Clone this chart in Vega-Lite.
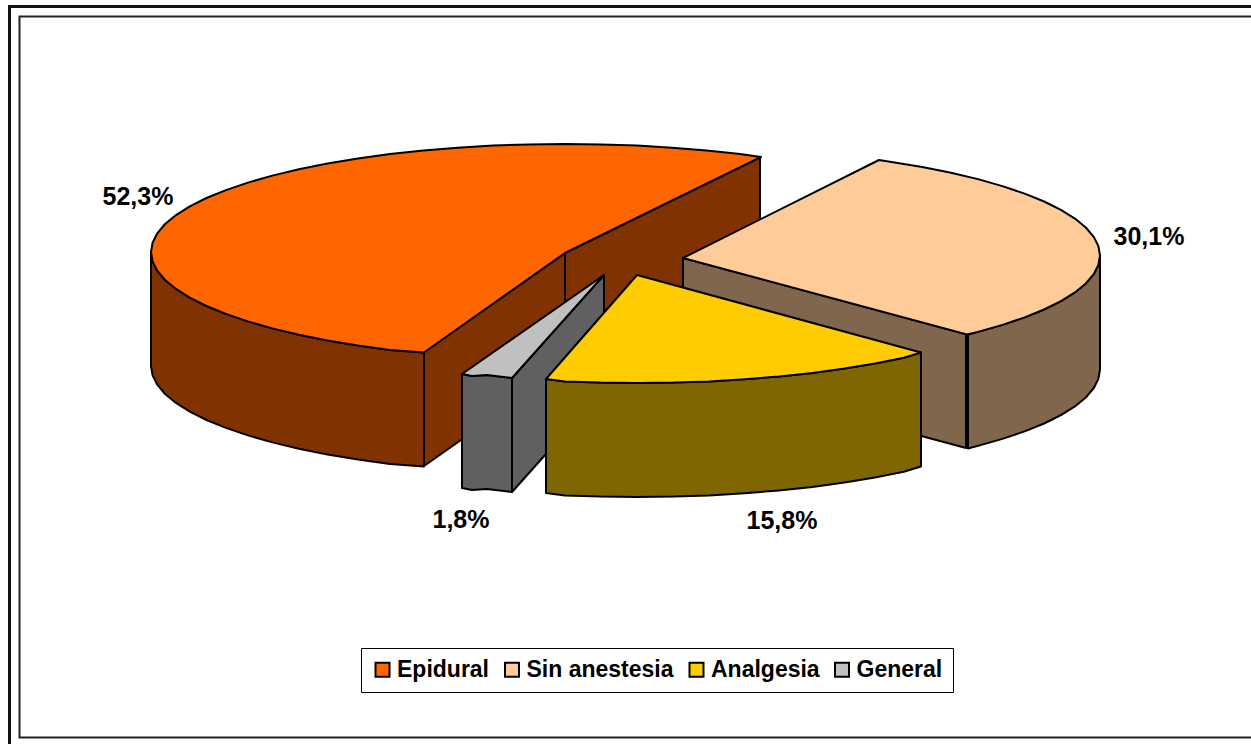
{"$schema":"https://vega.github.io/schema/vega-lite/v6.json","width":1251,"height":744,"padding":0,"autosize":{"type":"none"},"background":"white","view":{"stroke":null},
"datasets":{
"marco":[
{"m":"ext","n":1,"x":1251,"y":6.5},{"m":"ext","n":2,"x":9.5,"y":6.5},{"m":"ext","n":3,"x":9.5,"y":744},
{"m":"int","n":1,"x":1251,"y":16.5},{"m":"int","n":2,"x":19.5,"y":16.5},{"m":"int","n":3,"x":19.5,"y":737.5},{"m":"int","n":4,"x":1251,"y":737.5}],
"lados":[
{"s":"Epidural","c":"e2","n":1,"x":565,"y":253},{"s":"Epidural","c":"e2","n":2,"x":760,"y":157},{"s":"Epidural","c":"e2","n":3,"x":760,"y":271},{"s":"Epidural","c":"e2","n":4,"x":565,"y":367},
{"s":"Epidural","c":"e1","n":1,"x":424,"y":352},{"s":"Epidural","c":"e1","n":2,"x":565,"y":253},{"s":"Epidural","c":"e1","n":3,"x":565,"y":367},{"s":"Epidural","c":"e1","n":4,"x":424,"y":466},
{"s":"Epidural","c":"e0","n":1,"x":151,"y":252},{"s":"Epidural","c":"e0","n":2,"x":152.6,"y":261.4},{"s":"Epidural","c":"e0","n":3,"x":157.3,"y":270.7},{"s":"Epidural","c":"e0","n":4,"x":165.1,"y":280},{"s":"Epidural","c":"e0","n":5,"x":176,"y":288.9},{"s":"Epidural","c":"e0","n":6,"x":189.8,"y":297.6},{"s":"Epidural","c":"e0","n":7,"x":206.5,"y":306},{"s":"Epidural","c":"e0","n":8,"x":225.9,"y":313.9},{"s":"Epidural","c":"e0","n":9,"x":247.9,"y":321.4},{"s":"Epidural","c":"e0","n":10,"x":272.3,"y":328.4},{"s":"Epidural","c":"e0","n":11,"x":298.9,"y":334.7},{"s":"Epidural","c":"e0","n":12,"x":327.5,"y":340.5},{"s":"Epidural","c":"e0","n":13,"x":358,"y":345.5},{"s":"Epidural","c":"e0","n":14,"x":390,"y":349.9},{"s":"Epidural","c":"e0","n":15,"x":424,"y":352.5},{"s":"Epidural","c":"e0","n":16,"x":424,"y":466.5},{"s":"Epidural","c":"e0","n":17,"x":390,"y":463.9},{"s":"Epidural","c":"e0","n":18,"x":358,"y":459.5},{"s":"Epidural","c":"e0","n":19,"x":327.5,"y":454.5},{"s":"Epidural","c":"e0","n":20,"x":298.9,"y":448.7},{"s":"Epidural","c":"e0","n":21,"x":272.3,"y":442.4},{"s":"Epidural","c":"e0","n":22,"x":247.9,"y":435.4},{"s":"Epidural","c":"e0","n":23,"x":225.9,"y":427.9},{"s":"Epidural","c":"e0","n":24,"x":206.5,"y":420},{"s":"Epidural","c":"e0","n":25,"x":189.8,"y":411.6},{"s":"Epidural","c":"e0","n":26,"x":176,"y":402.9},{"s":"Epidural","c":"e0","n":27,"x":165.1,"y":394},{"s":"Epidural","c":"e0","n":28,"x":157.3,"y":384.7},{"s":"Epidural","c":"e0","n":29,"x":152.6,"y":375.4},{"s":"Epidural","c":"e0","n":30,"x":151,"y":366},
{"s":"Sin anestesia","c":"a1","n":1,"x":683,"y":258},{"s":"Sin anestesia","c":"a1","n":2,"x":966,"y":334},{"s":"Sin anestesia","c":"a1","n":3,"x":966,"y":448},{"s":"Sin anestesia","c":"a1","n":4,"x":683,"y":372},
{"s":"Sin anestesia","c":"a0","n":1,"x":968,"y":334.5},{"s":"Sin anestesia","c":"a0","n":2,"x":977.9,"y":331.9},{"s":"Sin anestesia","c":"a0","n":3,"x":1002.4,"y":324.9},{"s":"Sin anestesia","c":"a0","n":4,"x":1024.6,"y":317.4},{"s":"Sin anestesia","c":"a0","n":5,"x":1044.1,"y":309.5},{"s":"Sin anestesia","c":"a0","n":6,"x":1060.9,"y":301.1},{"s":"Sin anestesia","c":"a0","n":7,"x":1074.9,"y":292.4},{"s":"Sin anestesia","c":"a0","n":8,"x":1085.8,"y":283.5},{"s":"Sin anestesia","c":"a0","n":9,"x":1093.7,"y":274.2},{"s":"Sin anestesia","c":"a0","n":10,"x":1098.4,"y":264.9},{"s":"Sin anestesia","c":"a0","n":11,"x":1100,"y":255.5},{"s":"Sin anestesia","c":"a0","n":12,"x":1100,"y":369.5},{"s":"Sin anestesia","c":"a0","n":13,"x":1098.4,"y":378.9},{"s":"Sin anestesia","c":"a0","n":14,"x":1093.7,"y":388.2},{"s":"Sin anestesia","c":"a0","n":15,"x":1085.8,"y":397.5},{"s":"Sin anestesia","c":"a0","n":16,"x":1074.9,"y":406.4},{"s":"Sin anestesia","c":"a0","n":17,"x":1060.9,"y":415.1},{"s":"Sin anestesia","c":"a0","n":18,"x":1044.1,"y":423.5},{"s":"Sin anestesia","c":"a0","n":19,"x":1024.6,"y":431.4},{"s":"Sin anestesia","c":"a0","n":20,"x":1002.4,"y":438.9},{"s":"Sin anestesia","c":"a0","n":21,"x":977.9,"y":445.9},{"s":"Sin anestesia","c":"a0","n":22,"x":968,"y":448.5},
{"s":"General","c":"g1","n":1,"x":512,"y":378},{"s":"General","c":"g1","n":2,"x":604,"y":275},{"s":"General","c":"g1","n":3,"x":604,"y":389},{"s":"General","c":"g1","n":4,"x":512,"y":492},
{"s":"General","c":"g0","n":1,"x":462,"y":374},{"s":"General","c":"g0","n":2,"x":472,"y":376},{"s":"General","c":"g0","n":3,"x":487,"y":375},{"s":"General","c":"g0","n":4,"x":512,"y":378},{"s":"General","c":"g0","n":5,"x":512,"y":492},{"s":"General","c":"g0","n":6,"x":487,"y":489},{"s":"General","c":"g0","n":7,"x":472,"y":490},{"s":"General","c":"g0","n":8,"x":462,"y":488},
{"s":"Analgesia","c":"n0","n":1,"x":546,"y":379},{"s":"Analgesia","c":"n0","n":2,"x":565,"y":381.4},{"s":"Analgesia","c":"n0","n":3,"x":600.8,"y":382.6},{"s":"Analgesia","c":"n0","n":4,"x":637,"y":383},{"s":"Analgesia","c":"n0","n":5,"x":673.2,"y":382.6},{"s":"Analgesia","c":"n0","n":6,"x":709,"y":381.4},{"s":"Analgesia","c":"n0","n":7,"x":744.4,"y":379.3},{"s":"Analgesia","c":"n0","n":8,"x":778.9,"y":376.5},{"s":"Analgesia","c":"n0","n":9,"x":812.4,"y":372.9},{"s":"Analgesia","c":"n0","n":10,"x":844.5,"y":368.5},{"s":"Analgesia","c":"n0","n":11,"x":875,"y":363.5},{"s":"Analgesia","c":"n0","n":12,"x":903.8,"y":357.7},{"s":"Analgesia","c":"n0","n":13,"x":921,"y":352.5},{"s":"Analgesia","c":"n0","n":14,"x":921,"y":466.5},{"s":"Analgesia","c":"n0","n":15,"x":903.8,"y":471.7},{"s":"Analgesia","c":"n0","n":16,"x":875,"y":477.5},{"s":"Analgesia","c":"n0","n":17,"x":844.5,"y":482.5},{"s":"Analgesia","c":"n0","n":18,"x":812.4,"y":486.9},{"s":"Analgesia","c":"n0","n":19,"x":778.9,"y":490.5},{"s":"Analgesia","c":"n0","n":20,"x":744.4,"y":493.3},{"s":"Analgesia","c":"n0","n":21,"x":709,"y":495.4},{"s":"Analgesia","c":"n0","n":22,"x":673.2,"y":496.6},{"s":"Analgesia","c":"n0","n":23,"x":637,"y":497},{"s":"Analgesia","c":"n0","n":24,"x":600.8,"y":496.6},{"s":"Analgesia","c":"n0","n":25,"x":565,"y":495.4},{"s":"Analgesia","c":"n0","n":26,"x":546,"y":493}],
"tapas":[
{"s":"Epidural","c":"E","n":1,"x":151,"y":252},{"s":"Epidural","c":"E","n":2,"x":152.6,"y":242.6},{"s":"Epidural","c":"E","n":3,"x":157.3,"y":233.3},{"s":"Epidural","c":"E","n":4,"x":165.1,"y":224},{"s":"Epidural","c":"E","n":5,"x":176,"y":215.1},{"s":"Epidural","c":"E","n":6,"x":189.8,"y":206.4},{"s":"Epidural","c":"E","n":7,"x":206.5,"y":198},{"s":"Epidural","c":"E","n":8,"x":225.9,"y":190.1},{"s":"Epidural","c":"E","n":9,"x":247.9,"y":182.6},{"s":"Epidural","c":"E","n":10,"x":272.3,"y":175.6},{"s":"Epidural","c":"E","n":11,"x":298.9,"y":169.3},{"s":"Epidural","c":"E","n":12,"x":327.5,"y":163.5},{"s":"Epidural","c":"E","n":13,"x":358,"y":158.5},{"s":"Epidural","c":"E","n":14,"x":390,"y":154.1},{"s":"Epidural","c":"E","n":15,"x":423.4,"y":150.5},{"s":"Epidural","c":"E","n":16,"x":457.9,"y":147.7},{"s":"Epidural","c":"E","n":17,"x":493.1,"y":145.6},{"s":"Epidural","c":"E","n":18,"x":528.9,"y":144.4},{"s":"Epidural","c":"E","n":19,"x":565,"y":144},{"s":"Epidural","c":"E","n":20,"x":601,"y":144.4},{"s":"Epidural","c":"E","n":21,"x":636.9,"y":145.6},{"s":"Epidural","c":"E","n":22,"x":672,"y":147.7},{"s":"Epidural","c":"E","n":23,"x":706.6,"y":150.5},{"s":"Epidural","c":"E","n":24,"x":740,"y":154.1},{"s":"Epidural","c":"E","n":25,"x":761,"y":157},{"s":"Epidural","c":"E","n":26,"x":565,"y":253},{"s":"Epidural","c":"E","n":27,"x":424,"y":352.5},{"s":"Epidural","c":"E","n":28,"x":390,"y":349.9},{"s":"Epidural","c":"E","n":29,"x":358,"y":345.5},{"s":"Epidural","c":"E","n":30,"x":327.5,"y":340.5},{"s":"Epidural","c":"E","n":31,"x":298.9,"y":334.7},{"s":"Epidural","c":"E","n":32,"x":272.3,"y":328.4},{"s":"Epidural","c":"E","n":33,"x":247.9,"y":321.4},{"s":"Epidural","c":"E","n":34,"x":225.9,"y":313.9},{"s":"Epidural","c":"E","n":35,"x":206.5,"y":306},{"s":"Epidural","c":"E","n":36,"x":189.8,"y":297.6},{"s":"Epidural","c":"E","n":37,"x":176,"y":288.9},{"s":"Epidural","c":"E","n":38,"x":165.1,"y":280},{"s":"Epidural","c":"E","n":39,"x":157.3,"y":270.7},{"s":"Epidural","c":"E","n":40,"x":152.6,"y":261.4},
{"s":"Sin anestesia","c":"A","n":1,"x":683,"y":258},{"s":"Sin anestesia","c":"A","n":2,"x":879,"y":160},{"s":"Sin anestesia","c":"A","n":3,"x":891.5,"y":162},{"s":"Sin anestesia","c":"A","n":4,"x":922.2,"y":167},{"s":"Sin anestesia","c":"A","n":5,"x":951,"y":172.8},{"s":"Sin anestesia","c":"A","n":6,"x":977.9,"y":179.1},{"s":"Sin anestesia","c":"A","n":7,"x":1002.4,"y":186.1},{"s":"Sin anestesia","c":"A","n":8,"x":1024.6,"y":193.6},{"s":"Sin anestesia","c":"A","n":9,"x":1044.1,"y":201.5},{"s":"Sin anestesia","c":"A","n":10,"x":1060.9,"y":209.9},{"s":"Sin anestesia","c":"A","n":11,"x":1074.9,"y":218.6},{"s":"Sin anestesia","c":"A","n":12,"x":1085.8,"y":227.5},{"s":"Sin anestesia","c":"A","n":13,"x":1093.7,"y":236.8},{"s":"Sin anestesia","c":"A","n":14,"x":1098.4,"y":246.1},{"s":"Sin anestesia","c":"A","n":15,"x":1100,"y":255.5},{"s":"Sin anestesia","c":"A","n":16,"x":1098.4,"y":264.9},{"s":"Sin anestesia","c":"A","n":17,"x":1093.7,"y":274.2},{"s":"Sin anestesia","c":"A","n":18,"x":1085.8,"y":283.5},{"s":"Sin anestesia","c":"A","n":19,"x":1074.9,"y":292.4},{"s":"Sin anestesia","c":"A","n":20,"x":1060.9,"y":301.1},{"s":"Sin anestesia","c":"A","n":21,"x":1044.1,"y":309.5},{"s":"Sin anestesia","c":"A","n":22,"x":1024.6,"y":317.4},{"s":"Sin anestesia","c":"A","n":23,"x":1002.4,"y":324.9},{"s":"Sin anestesia","c":"A","n":24,"x":977.9,"y":331.9},{"s":"Sin anestesia","c":"A","n":25,"x":967,"y":334.5},
{"s":"General","c":"G","n":1,"x":604,"y":275},{"s":"General","c":"G","n":2,"x":462,"y":374},{"s":"General","c":"G","n":3,"x":472,"y":376},{"s":"General","c":"G","n":4,"x":487,"y":375},{"s":"General","c":"G","n":5,"x":512,"y":378},
{"s":"Analgesia","c":"N","n":1,"x":637,"y":275},{"s":"Analgesia","c":"N","n":2,"x":921,"y":352.5},{"s":"Analgesia","c":"N","n":3,"x":903.8,"y":357.7},{"s":"Analgesia","c":"N","n":4,"x":875,"y":363.5},{"s":"Analgesia","c":"N","n":5,"x":844.5,"y":368.5},{"s":"Analgesia","c":"N","n":6,"x":812.4,"y":372.9},{"s":"Analgesia","c":"N","n":7,"x":778.9,"y":376.5},{"s":"Analgesia","c":"N","n":8,"x":744.4,"y":379.3},{"s":"Analgesia","c":"N","n":9,"x":709,"y":381.4},{"s":"Analgesia","c":"N","n":10,"x":673.2,"y":382.6},{"s":"Analgesia","c":"N","n":11,"x":637,"y":383},{"s":"Analgesia","c":"N","n":12,"x":600.8,"y":382.6},{"s":"Analgesia","c":"N","n":13,"x":565,"y":381.4},{"s":"Analgesia","c":"N","n":14,"x":546,"y":379}],
"etiquetas":[
{"s":"Epidural","t":"52,3%","x":138,"y":197},{"s":"Sin anestesia","t":"30,1%","x":1149,"y":237},{"s":"Analgesia","t":"15,8%","x":782,"y":521},{"s":"General","t":"1,8%","x":461,"y":520}]
},
"encoding":{
"x":{"field":"x","type":"quantitative","axis":null,"scale":{"domain":[0,1251],"nice":false,"zero":false}},
"y":{"field":"y","type":"quantitative","axis":null,"scale":{"domain":[744,0],"nice":false,"zero":false}}
},
"layer":[
{"data":{"name":"marco"},"transform":[{"filter":"datum.m=='ext'"}],"mark":{"type":"line","stroke":"#111111","strokeWidth":3,"clip":false},"encoding":{"order":{"field":"n","type":"quantitative"}}},
{"data":{"name":"marco"},"transform":[{"filter":"datum.m=='int'"}],"mark":{"type":"line","stroke":"#222222","strokeWidth":2,"clip":false},"encoding":{"order":{"field":"n","type":"quantitative"}}},
{"data":{"name":"lados"},"mark":{"type":"line","interpolate":"linear-closed","stroke":"black","strokeWidth":2,"strokeJoin":"round"},
"encoding":{"detail":{"field":"c"},"order":{"field":"n","type":"quantitative"},
"fill":{"field":"s","type":"nominal","legend":null,"scale":{"domain":["Epidural","Sin anestesia","Analgesia","General"],"range":["#803300","#80664D","#806600","#606060"]}}}},
{"data":{"name":"tapas"},"mark":{"type":"line","interpolate":"linear-closed","stroke":"black","strokeWidth":2,"strokeJoin":"round"},
"encoding":{"detail":{"field":"c"},"order":{"field":"n","type":"quantitative"},
"fill":{"field":"s","type":"nominal","scale":{"domain":["Epidural","Sin anestesia","Analgesia","General"],"range":["#FF6600","#FFCC99","#FFCC00","#C0C0C0"]},
"legend":{"orient":"none","legendX":361,"legendY":648,"direction":"horizontal","columns":4,"title":null,"symbolType":"square","symbolSize":196,"symbolStrokeColor":"black","symbolStrokeWidth":2,"symbolOpacity":1,"labelFont":"Liberation Sans","labelFontWeight":"bold","labelFontSize":23,"labelColor":"black","labelOffset":3,"columnPadding":10.5,"padding":10,"strokeColor":"black","fillColor":"white","labelLimit":300}}}},
{"data":{"name":"etiquetas"},"mark":{"type":"text","font":"Liberation Sans","fontWeight":"bold","fontSize":25,"color":"black","align":"center","baseline":"middle"},
"encoding":{"text":{"field":"t"}}}
],
"resolve":{"scale":{"fill":"independent"}}
}
